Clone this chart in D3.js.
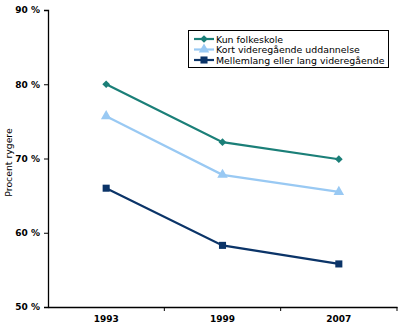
<!DOCTYPE html>
<html>
<head>
<meta charset="utf-8">
<script src="https://cdn.jsdelivr.net/npm/d3@7"></script>
<style>
  html, body { margin: 0; padding: 0; background: #fff; }
  svg { display: block; font-family: "DejaVu Sans", Verdana, sans-serif; }
</style>
</head>
<body>
<svg id="chart" width="406" height="331"></svg>
<script>
// Share of smokers by education level
const years = ["1993", "1999", "2007"];
const seriesNames = [
  "Kun folkeskole",
  "Kort videregående uddannelse",
  "Mellemlang eller lang videregående"
];
const folkeskole = [80.0, 72.2, 69.9];
const kortVideregaaende = [75.7, 67.8, 65.5];
const mellemLang = [66.0, 58.3, 55.8];
const yTicks = [50, 60, 70, 80, 90];

const colors = ["#1b7f78", "#99c9f3", "#0b3468"];
// square rotated 45 degrees gives the diamond marker
const symbols = [d3.symbolSquare, d3.symbolTriangle, d3.symbolSquare];
const symbolRot = [45, 0, 0];
const symbolSizes = [30, 48, 50];

const svg = d3.select("#chart");
const plotLeft = 48, plotRight = 397, plotTop = 10, plotBottom = 307;

const x = d3.scaleBand().domain(years).range([plotLeft, plotRight]);
const y = d3.scaleLinear().domain([50, 90]).range([plotBottom, plotTop]);

// Y axis
const yAxis = svg.append("g")
  .attr("transform", `translate(${plotLeft},0)`)
  .call(d3.axisLeft(y).tickValues(yTicks).tickSize(4).tickPadding(4)
    .tickFormat(d => d + " %"));
yAxis.select(".domain").attr("stroke", "#000").attr("stroke-width", 1.3);
yAxis.selectAll(".tick line").attr("stroke", "#000");
yAxis.selectAll("text")
  .attr("font-size", 9).attr("font-weight", "bold")
  .attr("font-family", "DejaVu Sans, Verdana, sans-serif").attr("fill", "#000");

// X axis with ticks at category boundaries
const xAxis = svg.append("g")
  .attr("transform", `translate(0,${plotBottom})`)
  .call(d3.axisBottom(x).tickSize(0).tickPadding(9));
xAxis.select(".domain").attr("stroke", "#000").attr("stroke-width", 1.3);
xAxis.selectAll("text")
  .attr("font-size", 9).attr("font-weight", "bold")
  .attr("font-family", "DejaVu Sans, Verdana, sans-serif").attr("fill", "#000");
const boundaries = years.slice(1).map(d => x(d)).concat([plotRight]);
xAxis.selectAll(".bound").data(boundaries).enter().append("line")
  .attr("x1", d => d).attr("x2", d => d)
  .attr("y1", 0).attr("y2", 4)
  .attr("stroke", "#000");

// Y axis title
svg.append("text")
  .attr("transform", `translate(12,${(plotTop + plotBottom) / 2 + 4}) rotate(-90)`)
  .attr("text-anchor", "middle")
  .attr("font-size", 9.3)
  .text("Procent rygere");

// Lines and markers
const allSeries = [folkeskole, kortVideregaaende, mellemLang];
const line = d3.line()
  .x((d, i) => x(years[i]) + x.bandwidth() / 2)
  .y(d => y(d));

allSeries.forEach((vals, si) => {
  svg.append("path")
    .attr("d", line(vals))
    .attr("fill", "none")
    .attr("stroke", colors[si])
    .attr("stroke-width", 2.2);
  svg.selectAll(null).data(vals).enter().append("path")
    .attr("d", d3.symbol().type(symbols[si]).size(symbolSizes[si]))
    .attr("transform", (d, i) =>
      `translate(${x(years[i]) + x.bandwidth() / 2},${y(d)}) rotate(${symbolRot[si]})`)
    .attr("fill", colors[si]);
});

// Legend
const lg = svg.append("g");
lg.append("rect")
  .attr("x", 188.5).attr("y", 30.5)
  .attr("width", 200).attr("height", 37)
  .attr("fill", "#fff").attr("stroke", "#000").attr("stroke-width", 1);
seriesNames.forEach((name, i) => {
  const cy = 39 + i * 10.5;
  lg.append("line")
    .attr("x1", 194).attr("x2", 214).attr("y1", cy).attr("y2", cy)
    .attr("stroke", colors[i]).attr("stroke-width", 2.2);
  lg.append("path")
    .attr("d", d3.symbol().type(symbols[i]).size(symbolSizes[i]))
    .attr("transform", `translate(204,${cy}) rotate(${symbolRot[i]})`)
    .attr("fill", colors[i]);
  lg.append("text")
    .attr("x", 216).attr("y", cy + 3.5)
    .attr("font-size", 9.4)
    .text(name);
});
</script>
</body>
</html>
